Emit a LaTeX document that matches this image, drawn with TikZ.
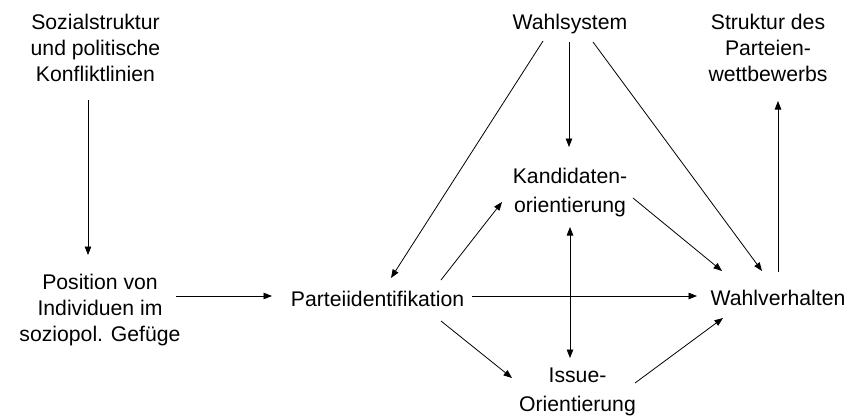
\documentclass[tikz,border=0pt]{standalone}
\usepackage{fontspec}
\setmainfont{Liberation Sans}
\usetikzlibrary{arrows.meta}

\begin{document}
\begin{tikzpicture}[x=1pt, y=1pt, >={Triangle[width=6.5pt,length=8.5pt]}, line width=0.8pt,
	txt/.style={align=center, inner sep=0pt, font=\fontsize{21.2}{26}\selectfont},
	txtwide/.style={txt, font=\fontsize{21.2}{28.5}\selectfont}]
	\useasboundingbox (0,0) rectangle (861,-416);
	\draw (95.5, -48)node[txt](soz){Sozialstruktur\\und politische\\Konfliktlinien};
	\draw (100, -310)node[txt](pos){Position von\\Individuen im\\soziopol. Gefüge};
	\draw (377.5, -299)node[txt](pid){Parteiidentifikation};
	\draw (570, -24)node[txt](wsys){Wahlsystem};
	\draw (768, -48)node[txt](struk){Struktur des\\Parteien-\\wettbewerbs};
	\draw (570, -192.5)node[txtwide](kand){Kandidaten-\\orientierung};
	\draw (577.5, -392)node[txtwide](issue){Issue-\\Orientierung};
	\draw (778, -298)node[txt](wv){Wahlverhalten};
	\path[->] ([shift={(-7.5,-52)}]soz.center) edge ([shift={(-12,55)}]pos.center);
	\path[->] ([shift={(76,14)}]pos.center) edge ([shift={(-105.5,3)}]pid.center);
	\path[->] ([shift={(-27,-17)}]wsys.center) edge ([shift={(13.5,21)}]pid.center);
	\path[->] ([shift={(-1,-18)}]wsys.center) edge ([shift={(-1,45.5)}]kand.center);
	\path[->] ([shift={(23,-18)}]wsys.center) edge ([shift={(-16,27)}]wv.center);
	\path[->] ([shift={(63,-5.5)}]kand.center) edge ([shift={(-56,27)}]wv.center);
	\path[->] ([shift={(0,26)}]wv.center) edge ([shift={(10,-53)}]struk.center);
	\path[->] ([shift={(94.5,3)}]pid.center) edge ([shift={(-81,2)}]wv.center);
	\path[->] ([shift={(63.5,19)}]pid.center) edge ([shift={(-68,-9.5)}]kand.center);
	\path[->] ([shift={(63.5,-22)}]pid.center) edge ([shift={(-65.5,14)}]issue.center);
	\path[<->] ([shift={(0,-34.5)}]kand.center) edge ([shift={(-7.5,34)}]issue.center);
	\path[->] ([shift={(57.5,9)}]issue.center) edge ([shift={(-55,-20)}]wv.center);
\end{tikzpicture}
\end{document}
